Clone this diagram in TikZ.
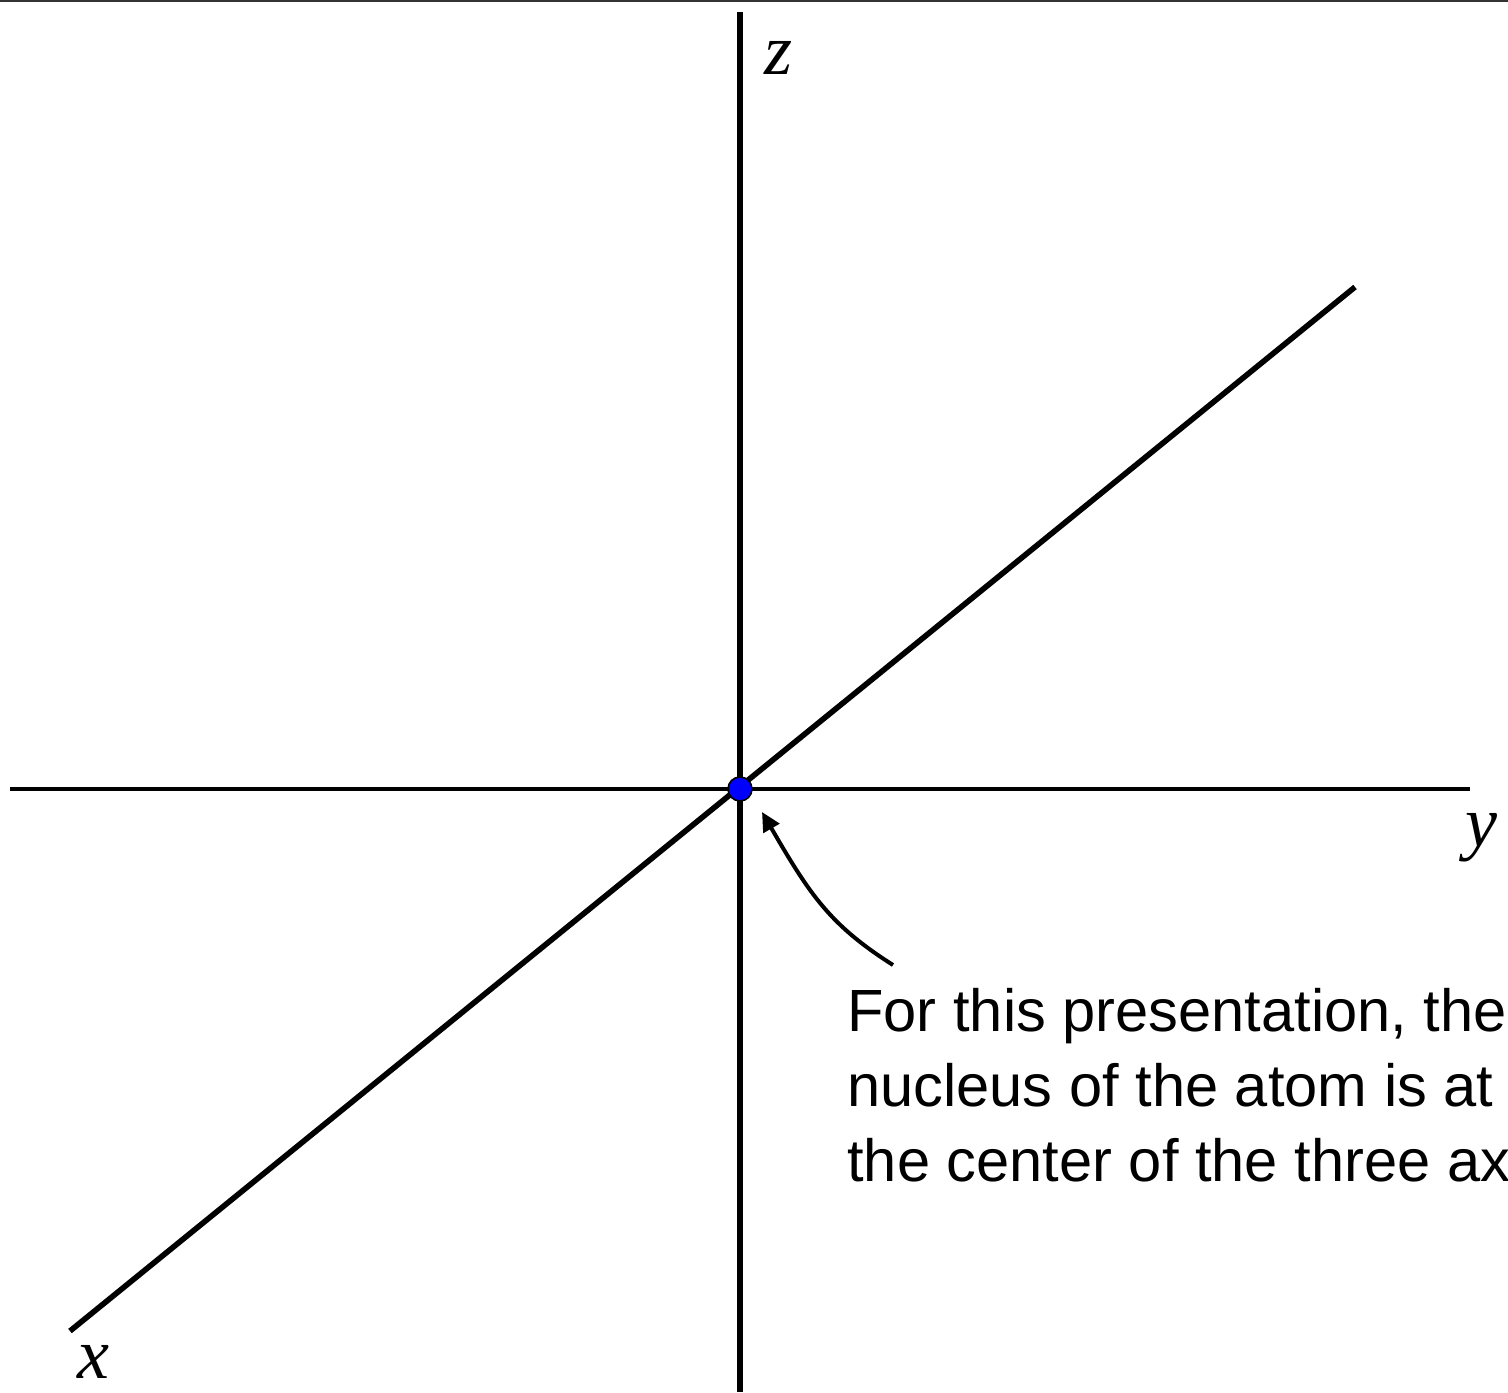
\documentclass[tikz,border=0pt]{standalone}
\usepackage{fontspec}
\setmainfont{Liberation Sans}
\newfontfamily\axisfont{Liberation Serif}
\usetikzlibrary{arrows.meta}
\begin{document}
\begin{tikzpicture}[x=0.5pt,y=-0.5pt,
  axis/.style={line width=2.8pt,black},
  axislabel/.style={font=\axisfont\itshape\fontsize{36}{40}\selectfont,inner sep=0pt},
  note/.style={font=\fontsize{29.8}{37.5}\selectfont,align=left,anchor=north west,inner sep=0pt}]
\useasboundingbox (0,0) rectangle (1508,1392);
\clip (0,0) rectangle (1508,1392);
\fill[white] (0,0) rectangle (1508,1392);
\coordinate (tl) at (0,1);
\coordinate (tr) at (1508,1);
\draw[line width=1.2pt,black!80] (tl) -- (tr);
\coordinate (ztop) at (740,12);
\coordinate (zbot) at (740,1392);
\coordinate (yl) at (10,789);
\coordinate (yr) at (1470,789);
\coordinate (xa) at (70,1331);
\coordinate (xb) at (1355,287);
\draw[axis] (ztop) -- (zbot);
\draw[line width=1.6pt] (yl) -- (yr);
\draw[axis] (xa) -- (xb);
\node[circle,fill=blue,draw=black,line width=0.8pt,minimum size=12pt,inner sep=0pt] (nuc) at (740,789) {};
\node[axislabel] (zl) at (778,58) {z};
\node[axislabel] (ylab) at (1481,838) {y};
\node[axislabel] (xlab) at (93,1362) {x};
\node[note] (txt) at (847,988) {For this presentation, the\\nucleus of the atom is at\\the center of the three axes.};
\coordinate (astart) at (893,965);
\coordinate (atip) at (762,812);
\draw[line width=2pt,-{Triangle[length=9.5pt,width=9pt]}] (astart) .. controls (830,925) and (810,895) .. (atip);
\end{tikzpicture}
\end{document}
